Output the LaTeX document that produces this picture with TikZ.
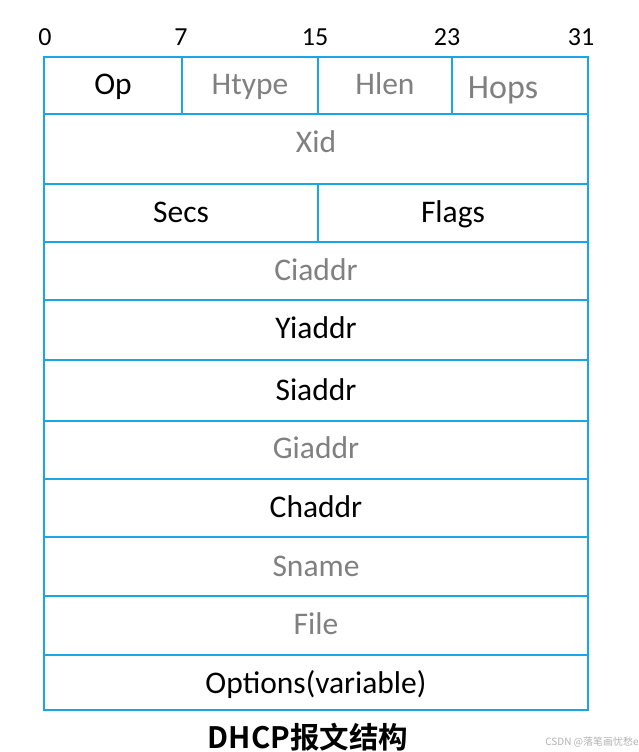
\documentclass[tikz,border=0pt]{standalone}
\usepackage{fontspec}
\setmainfont{Carlito}
\newfontfamily\cjkbold{Noto Sans CJK SC Bold}
\newfontfamily\cjk{Noto Sans CJK SC}
\definecolor{lineblue}{RGB}{25,165,230}
\definecolor{txtgray}{RGB}{128,128,128}
\begin{document}
\begin{tikzpicture}[x=1pt,y=-1pt,
  grid/.style={draw=lineblue,line width=1.8pt},
  blk/.style={anchor=base,font=\fontsize{31.5}{31.5}\selectfont,text=black,inner sep=0pt},
  gry/.style={blk,text=txtgray},
  tick/.style={anchor=base,font=\fontsize{26}{26}\selectfont,inner sep=0pt}]
\useasboundingbox (0,0) rectangle (639,752);
\fill[white] (0,0) rectangle (639,752);
% outer frame
\coordinate (tl) at (44,57);
\coordinate (br) at (588,710);
\draw[grid] (tl) rectangle (br);
% horizontal lines
\foreach \yy in {114,184,242,300,360,421,479,537,596,655}
  \draw[grid] (44,\yy) -- (588,\yy);
% vertical lines
\draw[grid] (182,57) -- (182,114);
\draw[grid] (318,57) -- (318,114);
\draw[grid] (452,57) -- (452,114);
\draw[grid] (318,184) -- (318,242);
% ticks
\node[tick] (t0) at (45,46) {0};
\node[tick] (t7) at (181,46) {7};
\node[tick] (t15) at (315,46) {15};
\node[tick] (t23) at (447,46) {23};
\node[tick] (t31) at (581,46) {31};
% labels
\node[blk] (op) at (113,94) {Op};
\node[gry] (htype) at (250,94) {Htype};
\node[gry] (hlen) at (385,94) {Hlen};
\node[gry,font=\fontsize{34}{34}\selectfont] (hops) at (503,98) {Hops};
\node[gry] (xid) at (316,152) {Xid};
\node[blk] (secs) at (181,222) {Secs};
\node[blk] (flags) at (453,222) {Flags};
\node[gry] (ciaddr) at (316,280) {Ciaddr};
\node[blk] (yiaddr) at (316,338) {Yiaddr};
\node[blk] (siaddr) at (316,400) {Siaddr};
\node[gry] (giaddr) at (316,458) {Giaddr};
\node[blk] (chaddr) at (316,517) {Chaddr};
\node[gry] (sname) at (316,576) {Sname};
\node[gry] (file) at (316,634) {File};
\node[blk] (options) at (316,693) {Options(variable)};
% title
\node[anchor=base,inner sep=0pt,font=\fontsize{29.5}{29.5}\selectfont\cjkbold] (title) at (308,748) {DHCP报文结构};
\node[anchor=base,inner sep=0pt,text=gray!60,font=\fontsize{10}{10}\selectfont\cjk] (wm) at (592,745) {CSDN @落笔画忧愁e};
\end{tikzpicture}
\end{document}
